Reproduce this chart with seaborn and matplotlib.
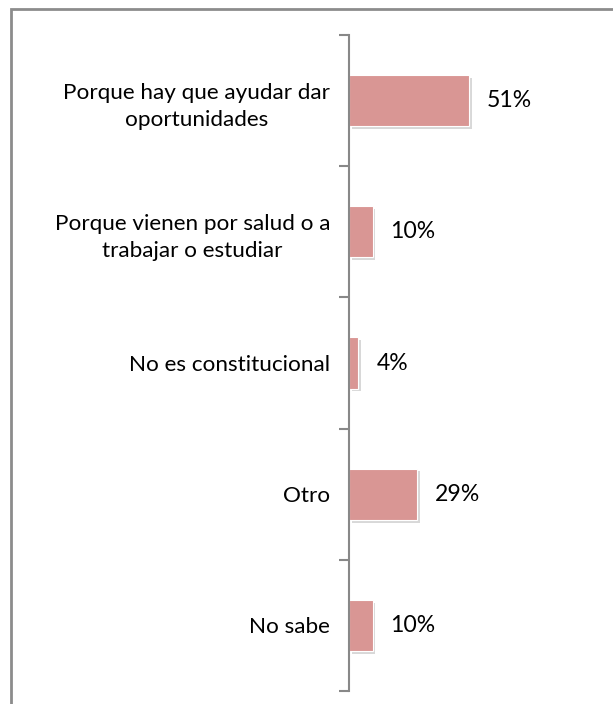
import matplotlib
matplotlib.use("Agg")
import matplotlib.pyplot as plt
import matplotlib.patheffects as pe
import seaborn as sns
import pandas as pd

categories = ["Porque hay que ayudar dar\noportunidades",
              "Porque vienen por salud o a\ntrabajar o estudiar",
              "No es constitucional",
              "Otro",
              "No sabe"]
values = [51, 10, 4, 29, 10]
value_labels = ["51%", "10%", "4%", "29%", "10%"]

sns.set_theme(style="white")
plt.rcParams['font.family'] = ['Lato', 'DejaVu Sans']

df = pd.DataFrame({"cat": categories, "val": values})

fig = plt.figure(figsize=(6.13, 7.04), dpi=100)
ax = fig.add_axes([349/613, (704-691)/704, (600-349)/613, (691-35)/704])

sns.barplot(data=df, y="cat", x="val", orient="h", color="#D99694",
            saturation=1, width=0.39, ax=ax, edgecolor="white", linewidth=0.8)
for p in ax.patches:
    p.set_path_effects([pe.SimplePatchShadow(offset=(2, -2), shadow_rgbFace="#aaaaaa", alpha=0.45), pe.Normal()])

ax.set_xlim(0, (600-349)/2.35)
ax.set_ylim(len(categories)-0.5, -0.5)
ax.set_xlabel("")
ax.set_ylabel("")
ax.set_xticks([])
ax.set_yticks([i - 0.5 for i in range(len(categories)+1)], minor=False)
ax.set_yticklabels([])
ax.set_yticks(range(len(categories)), minor=True)
ax.set_yticklabels(categories, minor=True, fontsize=16.2, color="#000000",
                   multialignment="center", linespacing=1.45)
ax.tick_params(axis="y", which="major", length=7, width=1.5, color="#888888", left=True, direction="out")
ax.tick_params(axis="y", which="minor", length=0, pad=13.5)
for s in ["top", "right", "bottom"]:
    ax.spines[s].set_visible(False)
ax.spines["left"].set_color("#888888")
ax.spines["left"].set_linewidth(1.5)

for i, (v, lab) in enumerate(zip(values, value_labels)):
    ax.text(v + 7.7, i, lab, va="center", ha="left", fontsize=16.6, color="#000000")

# outer border
border = plt.Rectangle((11/613, -0.05), 1.1, (704-9)/704 + 0.05, transform=fig.transFigure,
                       fill=False, edgecolor="#8c8c8c", linewidth=2, clip_on=False)
fig.patches.append(border)

fig.savefig("out.png", dpi=100, facecolor="white")
